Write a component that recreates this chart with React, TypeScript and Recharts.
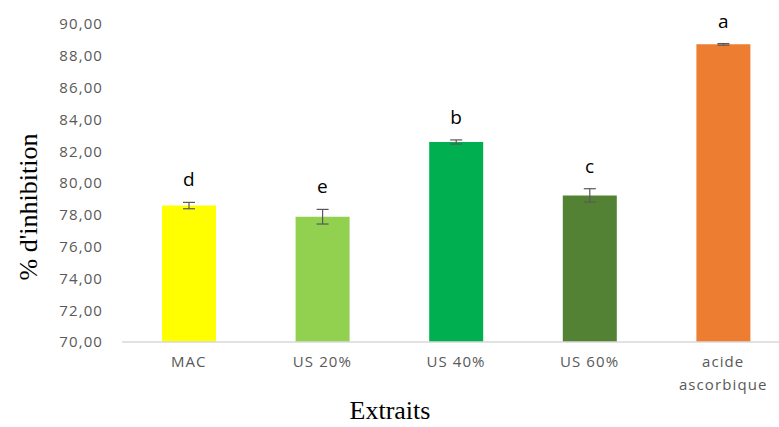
import React from "react";
import {
  ComposedChart,
  Bar,
  Line,
  XAxis,
  YAxis,
  ErrorBar,
  Cell,
  Label,
  LabelList,
} from "recharts";

// Extracts and their antioxidant activity (% inhibition, mean ± SD)
const categories = ["MAC", "US 20%", "US 40%", "US 60%", "acide ascorbique"];
const inhibition = [78.58, 77.88, 82.58, 79.22, 88.72];
const stdDev = [0.2, 0.46, 0.13, 0.42, 0.05];
const groupLetters = ["d", "e", "b", "c", "a"];
const barColors = ["#FFFF00", "#92D050", "#00B050", "#548235", "#ED7D31"];
const yTicks = [70, 72, 74, 76, 78, 80, 82, 84, 86, 88, 90];

const data = categories.map((name, i) => ({
  name,
  value: inhibition[i],
  sd: stdDev[i],
  top: inhibition[i] + stdDev[i],
  letter: groupLetters[i],
}));

const tickFont = "'Open Sans', sans-serif";
const serifFont = "'Liberation Serif', 'Times New Roman', serif";

const formatTick = (v: number) => v.toFixed(2).replace(".", ",");

const CategoryTick = (props: any) => {
  const { x, y, payload } = props;
  const text: string = payload.value;
  const lines = text.length > 10 ? text.split(" ") : [text];
  return (
    <text
      x={x}
      y={y}
      textAnchor="middle"
      fill="#595959"
      fontFamily={tickFont}
      fontSize={15}
      letterSpacing={1.1}
    >
      {lines.map((ln, i) => (
        <tspan key={i} x={x} dy={i === 0 ? 17 : 23}>
          {ln}
        </tspan>
      ))}
    </text>
  );
};

const LetterLabel = (props: any) => {
  const { x, y, value } = props;
  return (
    <text
      x={x}
      y={y - 16}
      textAnchor="middle"
      fill="#000"
      fontFamily={tickFont}
      fontSize={19}
    >
      {value}
    </text>
  );
};

export default function App() {
  return (
    <div
      style={{
        position: "absolute",
        left: 0,
        top: 0,
        width: 779,
        height: 427,
        overflow: "hidden",
        background: "#fff",
      }}
    >
      <ComposedChart
        width={800}
        height={427}
        data={data}
        margin={{ top: 24, right: 10, bottom: 0, left: 62 }}
      >
        <XAxis
          dataKey="name"
          height={85}
          axisLine={{ stroke: "#d9d9d9", strokeWidth: 1.5 }}
          tickLine={false}
          tick={<CategoryTick />}
          interval={0}
        >
          <Label
            content={() => (
              <text
                x={390}
                y={419}
                textAnchor="middle"
                fontFamily={serifFont}
                fontSize={26}
                fill="#000"
              >
                Extraits
              </text>
            )}
          />
        </XAxis>
        <YAxis
          width={60}
          domain={[70, 90]}
          ticks={yTicks}
          interval={0}
          tickFormatter={formatTick}
          axisLine={false}
          tickLine={false}
          tickSize={8}
          tickMargin={11}
          tick={{
            fill: "#595959",
            fontFamily: tickFont,
            fontSize: 15,
            letterSpacing: 1.1,
          }}
          allowDataOverflow
        >
          <Label
            content={() => (
              <text
                x={37}
                y={207}
                transform="rotate(-90 37 207)"
                textAnchor="middle"
                fontFamily={serifFont}
                fontSize={26}
                fill="#000"
              >
                % d'inhibition
              </text>
            )}
          />
        </YAxis>
        <Bar dataKey="value" barSize={54} isAnimationActive={false}>
          {data.map((d, i) => (
            <Cell key={d.name} fill={barColors[i]} />
          ))}
          <ErrorBar
            dataKey="sd"
            width={6}
            stroke="#595959"
            strokeWidth={1.2}
            direction="y"
          />
        </Bar>
        <Line
          dataKey="top"
          stroke="none"
          dot={false}
          activeDot={false}
          isAnimationActive={false}
        >
          <LabelList dataKey="letter" content={<LetterLabel />} />
        </Line>
      </ComposedChart>
    </div>
  );
}
